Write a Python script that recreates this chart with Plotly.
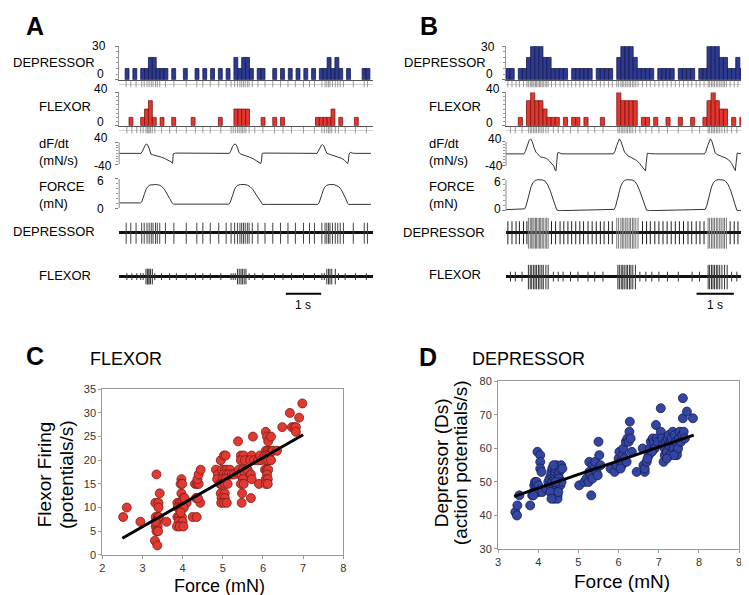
import plotly.graph_objects as go

W, H = 749, 595
FONT = "Liberation Sans, Arial, sans-serif"

# ---------------- data ----------------
BIN = 0.11            # histogram bin width (s)
A_T0, B_T0 = 0.17, 0.0
A_TRANGE = [0, 7.19]
B_TRANGE = [0, 6.65]

A_DEP_COUNTS = [10,0,10,0,10,10,20,20,10,10, 10,0,10,0,0,10,0,0,10,0,
                10,0,10,0,10,0,10,0,20,10, 20,20,10,0,10,10,0,0,10,0,
                10,0,10,0,10,0,10,0,10,0, 10,10,20,10,20,10,0,10,0,0, 0,10,10]
A_FLEX_COUNTS = [0,10,0,0,10,20,30,10,0,10, 0,0,10,0,0,0,0,10,0,0,
                 0,0,0,0,10,0,0,0,20,20, 20,20,0,0,0,10,0,0,10,0,
                 10,0,0,0,0,0,0,0,0,10, 10,10,10,20,0,10,0,0,0,10, 0,0,0]
B_DEP_COUNTS = [10,10,0,10,10,20,30,30,30,20, 20,10,10,10,10,0,10,10,10,10,
                10,0,10,10,10,10,0,20,30,30, 30,20,10,10,10,10,0,10,10,10,
                10,0,10,10,10,10,0,10,10,30, 30,30,20,20,10,10,20,10,0,10, 10]
B_FLEX_COUNTS = [0,0,0,10,0,30,40,30,30,20, 10,10,10,0,10,0,10,10,0,10,
                 0,0,0,10,0,0,0,40,30,30, 30,30,0,10,10,0,10,0,0,10,
                 0,0,10,0,0,10,0,0,10,30, 40,30,20,20,0,10,0,10,0,10, 0]

HIST_DEP_TICKS = [0, 30]
HIST_FLEX_TICKS = [0, 40]
DFDT_TICKS = [-40, 40]
FORCE_TICKS = [0, 6]

A_FORCE_T = [0.00,0.60,0.64,0.68,0.72,0.76,0.81,0.87,0.95,1.05,1.13,1.20,1.28,1.36,1.43,1.50,1.54,1.70,
             3.10,3.14,3.18,3.22,3.26,3.30,3.36,3.44,3.56,3.64,3.71,3.79,3.87,3.95,4.02,4.06,4.20,
             5.62,5.66,5.70,5.74,5.78,5.82,5.88,5.96,6.08,6.15,6.22,6.29,6.36,6.42,6.47,6.50,7.13]
A_FORCE = [1.10,1.10,1.30,2.00,3.00,3.80,4.40,4.75,4.85,4.85,4.75,4.50,3.90,3.00,2.00,1.10,0.85,0.85,
           0.85,1.10,1.80,2.80,3.70,4.30,4.70,4.85,4.85,4.70,4.40,3.80,2.90,1.90,1.00,0.80,0.80,
           0.80,1.10,1.80,2.80,3.70,4.30,4.70,4.85,4.85,4.70,4.40,3.80,2.90,1.90,1.00,0.80,0.80]
A_DFDT_T = [0.00,0.62,0.66,0.71,0.75,0.78,0.81,0.85,0.90,0.95,1.05,1.20,1.30,1.40,1.47,1.51,1.52,1.53,1.60,
            3.12,3.16,3.21,3.25,3.29,3.32,3.36,3.40,3.45,3.55,3.68,3.80,3.90,3.98,4.01,4.03,4.05,4.10,
            5.60,5.64,5.69,5.73,5.76,5.80,5.84,5.88,5.95,6.05,6.21,6.30,6.38,6.44,6.47,6.49,6.51,6.55,6.60,6.70,7.13]
A_DFDT = [0,0,8,22,32,34,30,18,-3,-5,-8,-14,-19,-25,-31,-36,-28,-2,1,
          0,8,24,32,34,30,16,2,-3,-7,-13,-20,-27,-33,-37,-28,0,1,
          0,8,22,30,31,26,12,1,-3,-7,-12,-18,-25,-32,-37,-28,-3,4,1,0,0]

B_FORCE_T = [0.00,0.45,0.50,0.54,0.58,0.62,0.67,0.72,0.78,0.85,0.98,1.05,1.12,1.19,1.26,1.32,1.36,1.42,2.00,2.85,
             2.90,2.94,2.98,3.02,3.07,3.12,3.18,3.25,3.38,3.45,3.52,3.59,3.66,3.72,3.77,3.85,4.50,5.30,
             5.34,5.38,5.42,5.46,5.51,5.56,5.62,5.69,5.82,5.89,5.96,6.03,6.09,6.15,6.19,6.26,6.65]
B_FORCE = [0.25,0.30,0.40,1.00,2.20,3.50,4.60,5.40,5.85,6.00,5.95,5.70,5.00,3.80,2.30,0.90,0.20,0.05,0.10,0.25,
           0.30,0.90,2.10,3.40,4.60,5.40,5.85,6.00,5.95,5.70,5.00,3.80,2.30,0.90,0.15,0.05,0.15,0.25,
           0.30,0.90,2.10,3.40,4.60,5.40,5.85,6.00,5.95,5.70,5.00,3.80,2.30,0.90,0.15,0.05,0.10]
B_DFDT_T = [0.00,0.48,0.52,0.57,0.62,0.66,0.70,0.75,0.80,0.84,0.88,0.92,1.00,1.08,1.15,1.22,1.28,1.32,1.34,1.36,1.38,1.42,1.50,
            2.88,2.92,2.97,3.01,3.04,3.08,3.13,3.18,3.22,3.27,3.33,3.42,3.50,3.57,3.64,3.70,3.74,3.76,3.79,3.85,4.00,
            5.32,5.36,5.41,5.45,5.48,5.52,5.57,5.61,5.66,5.72,5.79,5.88,5.97,6.05,6.10,6.15,6.17,6.20,6.25,6.65]
B_DFDT = [0,0,8,28,45,50,42,22,6,1,-5,-10,-12,-15,-22,-30,-40,-55,-57,-30,3,4,0,
          0,8,28,45,50,42,22,5,1,-7,-10,-15,-22,-30,-40,-50,-57,-30,2,1,0,
          0,8,28,45,50,42,20,3,-2,-6,-9,-13,-20,-32,-45,-56,-30,3,1,0]

A_DEP_SPIKES = [0.20,0.33,0.48,0.64,0.71,0.79,0.85,0.91,0.96,1.03,1.08,1.15,1.31,1.55,1.90,2.20,2.37,2.58,
                2.82,3.03,3.17,3.27,3.35,3.42,3.47,3.52,3.57,3.63,3.68,3.77,3.93,4.13,4.35,4.57,4.78,4.99,
                5.22,5.39,5.53,5.74,5.83,5.88,5.93,5.97,6.04,6.12,6.19,6.26,6.35,6.63,6.94,7.03]
A_FLEX_BURST = [0.76,0.80,0.82,0.85,0.89,0.94,3.35,3.40,3.45,3.49,3.54,3.59,5.88,5.93,5.97,6.02,6.12]
A_FLEX_SMALL = [0.22,0.36,0.50,0.61,0.68,1.01,1.20,1.43,1.62,1.90,2.16,2.37,2.58,2.88,3.17,3.23,3.29,
                3.68,3.84,4.07,4.40,4.64,4.88,5.22,5.53,5.74,5.81,6.21,6.40,6.69,7.00]
B_DEP_TONIC = [0.05,0.16,0.27,0.36,0.47,0.56,1.22,1.33,1.45,1.55,1.66,1.76,1.87,1.98,2.08,2.20,2.31,2.42,
               2.53,2.63,2.75,2.85,3.66,3.77,3.87,3.99,4.10,4.21,4.32,4.43,4.54,4.65,4.76,4.88,4.98,5.10,
               5.20,5.31,6.01,6.12,6.22,6.33,6.44,6.54,6.65]
B_DEP_BURST = [0.60,0.65,0.68,0.72,0.75,0.79,0.82,0.86,0.90,0.93,0.97,1.00,1.05,1.09,1.13,
               2.97,3.02,3.08,3.12,3.16,3.21,3.25,3.30,3.34,3.39,3.43,3.48,3.54,
               5.42,5.46,5.51,5.55,5.59,5.64,5.68,5.73,5.77,5.82,5.86,5.91]
B_FLEX_BURST = [0.60,0.65,0.69,0.74,0.78,0.82,0.87,0.91,0.96,1.00,1.07,1.13,
                3.00,3.04,3.09,3.13,3.17,3.22,3.26,3.31,3.35,3.40,3.47,
                5.42,5.46,5.51,5.55,5.59,5.64,5.68,5.73,5.79,5.86,5.93]
B_FLEX_TONIC = [0.12,0.25,0.43,1.27,1.40,1.53,1.73,1.93,2.20,2.38,2.60,3.59,3.75,3.91,4.10,4.33,4.62,
                4.99,5.19,6.05,6.19,6.32,6.50]
SCALE_BAR_S = 1.0
A_BAR_START, B_BAR_START = 4.72, 5.11

FLEX_FORCE = [2.52,2.61,2.95,
              3.35,3.32,3.40,3.43,3.40,3.33,3.38,3.36,3.33,3.38,3.35,3.39,3.31,3.37,3.41,3.33,
              3.60,
              3.97,3.95,3.99,3.97,4.02,3.87,3.93,3.98,4.05,4.10,3.88,3.95,4.03,3.87,3.92,3.98,3.90,4.00,3.86,3.93,4.02,4.05,3.95,
              4.25,4.35,4.33,
              4.31,4.36,4.40,4.37,4.40,4.45,4.44,4.38,
              4.83,4.88,4.86,4.93,4.95,5.03,5.07,4.98,5.05,5.10,5.18,5.02,5.10,5.15,5.22,5.00,5.07,4.97,5.05,5.12,4.95,5.05,4.97,5.05,4.96,5.03,5.10,5.28,
              5.38,5.45,5.52,5.45,5.55,5.40,5.50,5.58,5.42,5.47,5.55,5.50,5.45,5.52,5.48,5.47,5.62,
              5.75,5.72,5.68,5.78,5.70,5.72,5.70,5.88,5.93,5.95,5.90,
              6.07,6.10,6.13,6.20,6.07,6.12,6.17,6.22,6.05,6.10,6.15,6.07,6.13,6.20,6.05,6.10,6.13,6.10,6.07,6.12,6.07,6.12,6.25,6.35,
              6.48,6.67,6.72,6.78,6.82,6.82,6.90,6.98]
FLEX_RATE = [8,10,7,
             17,11,11,13,10,8,8,7,6,6,5,5,3,2,8,7,
             7,
             16,15,15,13,12,11,11,11,11,11,10,10,10,8,8,8,7,7,6,6,6,12,9,
             8,8,12,
             15,15,15,16,17,18,11,12,
             18,17,16,15,20,21,21,18,18,18,18,17,17,17,17,16,16,15,15,15,13,13,12,12,11,11,11,17,
             24,21,21,20,20,18,18,18,17,17,17,16,15,15,13,11,18,
             25,21,20,20,17,16,12,20,21,20,15,
             26,25,24,25,22,22,22,22,21,21,21,20,20,20,18,18,18,17,16,16,15,15,22,22,
             27,30,27,27,27,26,29,32]
FLEX_FIT_X = [2.50, 7.00]
FLEX_FIT_Y = [3.5, 25.4]

DEP_FORCE = [3.43,3.47,3.48,3.53,3.80,
             3.85,3.88,3.90,3.92,3.96,3.95,4.00,4.02,3.98,4.05,4.05,4.05,4.08,4.10,3.88,
             4.20,4.25,4.28,4.30,4.32,4.33,4.35,4.35,4.37,4.37,4.38,4.40,4.40,4.42,4.42,4.43,4.45,4.45,4.45,
             4.47,4.47,4.48,4.48,4.50,4.50,4.52,4.52,4.55,4.55,4.57,4.58,4.60,4.30,4.38,4.43,4.50,4.33,
             5.02,5.15,5.20,5.25,5.27,5.27,5.32,5.30,5.35,5.35,5.40,5.42,5.45,5.48,5.50,5.52,5.55,
             5.80,5.90,5.95,6.00,6.02,6.05,6.08,6.10,6.12,6.15,6.18,6.22,6.25,6.27,6.28,6.30,6.33,6.45,6.20,6.05,
             6.60,6.62,6.65,6.65,6.70,6.75,6.78,6.80,6.85,6.88,6.90,6.93,6.95,6.98,6.83,6.72,
             7.05,7.05,7.08,7.10,7.12,7.15,7.15,7.18,7.20,7.22,7.25,7.25,7.28,7.30,7.32,7.35,7.37,7.40,
             7.42,7.45,7.45,7.48,7.50,7.52,7.55,7.58,7.60,7.60,7.62,7.65,7.70,7.85,7.38,7.20]
DEP_RATE = [41,40,43,46,43,
            46,47,49,50,50,48,49,47,59,58,56,54,53,47,46,
            48,50,51,49,52,53,54,50,48,47,46,45,51,52,53,54,55,50,49,
            48,47,46,45,50,52,53,51,54,49,55,50,54,47,55,50,47,45,
            49,50,51,50,53,56,46,52,55,51,54,56,53,52,62,58,55,
            54,53,55,57,59,56,55,58,60,57,62,63,62,65,68,63,59,53,56,54,
            60,55,53,54,56,58,60,62,63,62,60,67,63,62,59,57,
            72,65,63,61,56,58,60,62,59,63,61,64,58,62,63,65,60,64,
            62,59,58,60,63,65,62,64,75,69,65,63,71,69,58,57]
DEP_FIT_X = [3.40, 7.87]
DEP_FIT_Y = [45.7, 64.0]

# ---------------- colours / styles ----------------
DEP_FILL, DEP_EDGE = "#2E3A8E", "#151B4F"
FLEX_FILL, FLEX_EDGE = "#E2362F", "#7A1512"
SC_RED, SC_RED_EDGE = "#E23A33", "#7A1A16"
SC_BLUE, SC_BLUE_EDGE = "#3446A2", "#141C55"

fig = go.Figure()
axes_layout = {}
shapes = []
annotations = []
counter = [0]


def new_axes(xd, yd, xr, yr, xopts=None, yopts=None):
    counter[0] += 1
    n = counter[0]
    s = "" if n == 1 else str(n)
    xa = dict(domain=[xd[0] / W, xd[1] / W], range=xr, anchor="y" + s, showgrid=False,
              zeroline=False, showline=False, showticklabels=False, ticks="", fixedrange=True)
    ya = dict(domain=[1 - yd[0] / H, 1 - yd[1] / H], range=yr, anchor="x" + s, showgrid=False,
              zeroline=False, showline=False, showticklabels=False, ticks="", fixedrange=True)
    if xopts:
        xa.update(xopts)
    if yopts:
        ya.update(yopts)
    axes_layout["xaxis" + s] = xa
    axes_layout["yaxis" + s] = ya
    return "x" + s, "y" + s


def ann(text, x, y, size, anchor="left", bold=False, angle=0, color="black"):
    annotations.append(dict(text=f"<b>{text}</b>" if bold else text, x=x / W, y=1 - y / H,
                            xref="paper", yref="paper", xanchor=anchor, yanchor="middle",
                            showarrow=False, textangle=angle, align="left",
                            font=dict(size=size, color=color, family=FONT)))


def tick_y(vals, minor_vals):
    return dict(ticks="outside", ticklen=3, tickcolor="#777", tickwidth=1,
                tickmode="array", tickvals=vals, showticklabels=False,
                minor=dict(ticks="outside", ticklen=2, tickcolor="#999", tickmode="array",
                           tickvals=minor_vals))


def axis_line(xr, yr, y0, y1):
    shapes.append(dict(type="line", xref=xr + " domain", yref=yr, x0=0, x1=0, y0=y0, y1=y1,
                       line=dict(color="#888", width=1)))


def spikes(times, up, down):
    xs, ys = [], []
    for t in times:
        xs += [t, t, None]
        ys += [-down, up, None]
    return xs, ys


def panel(x0px, x1px, trange, t0, dep_counts, flex_counts, force_t, force, dfdt_t, dfdt,
          dfdt_px, dfdt_rng, force_px, force_rng, dep_raw, flex_raw, raster_dep, raster_flex,
          bar_start):
    xd = (x0px, x1px)
    # depressor histogram
    xr, yr = new_axes(xd, (67, 33), trange, [0, 30],
                      xopts=dict(showline=True, linecolor="#555", linewidth=1),
                      yopts=dict(showline=True, linecolor="#999", **tick_y(HIST_DEP_TICKS, list(range(0, 31, 5)))))
    cx = [t0 + (k + 0.5) * BIN for k, c in enumerate(dep_counts) if c > 0]
    cy = [c for c in dep_counts if c > 0]
    fig.add_trace(go.Bar(x=cx, y=cy, width=BIN, marker=dict(color=DEP_FILL, line=dict(color=DEP_EDGE, width=0.8)),
                         xaxis=xr, yaxis=yr))
    # depressor raster
    xr, yr = new_axes(xd, (75, 68), trange, [-1, 1],
                      yopts=dict(zeroline=True, zerolinecolor="#d0d0d0", zerolinewidth=1))
    fig.add_trace(go.Scatter(x=raster_dep, y=[0] * len(raster_dep), mode="markers",
                             marker=dict(symbol="line-ns", size=5, line=dict(color="#999", width=1)),
                             xaxis=xr, yaxis=yr))
    # flexor histogram
    xr, yr = new_axes(xd, (114, 80), trange, [0, 40],
                      xopts=dict(showline=True, linecolor="#555", linewidth=1),
                      yopts=dict(showline=True, linecolor="#999", **tick_y(HIST_FLEX_TICKS, list(range(0, 41, 5)))))
    cx = [t0 + (k + 0.5) * BIN for k, c in enumerate(flex_counts) if c > 0]
    cy = [c for c in flex_counts if c > 0]
    fig.add_trace(go.Bar(x=cx, y=cy, width=BIN, marker=dict(color=FLEX_FILL, line=dict(color=FLEX_EDGE, width=0.8)),
                         xaxis=xr, yaxis=yr))
    # flexor raster
    xr, yr = new_axes(xd, (122, 115), trange, [-1, 1],
                      yopts=dict(zeroline=True, zerolinecolor="#d0d0d0", zerolinewidth=1))
    fig.add_trace(go.Scatter(x=raster_flex, y=[0] * len(raster_flex), mode="markers",
                             marker=dict(symbol="line-ns", size=5, line=dict(color="#999", width=1)),
                             xaxis=xr, yaxis=yr))
    # dF/dt
    xr, yr = new_axes(xd, dfdt_px, trange, dfdt_rng,
                      yopts=tick_y(DFDT_TICKS, list(range(-40, 41, 10))))
    axis_line(xr, yr, DFDT_TICKS[0], DFDT_TICKS[1])
    fig.add_trace(go.Scatter(x=dfdt_t, y=dfdt, mode="lines", line=dict(color="#333", width=1),
                             xaxis=xr, yaxis=yr))
    # force
    xr, yr = new_axes(xd, force_px, trange, force_rng,
                      yopts=tick_y(FORCE_TICKS, [0, 1, 2, 3, 4, 5, 6]))
    axis_line(xr, yr, FORCE_TICKS[0], FORCE_TICKS[1])
    fig.add_trace(go.Scatter(x=force_t, y=force, mode="lines", line=dict(color="#333", width=1),
                             xaxis=xr, yaxis=yr))
    # raw depressor
    (dep_groups, dep_px, dep_rng) = dep_raw
    xr, yr = new_axes(xd, dep_px, trange, dep_rng,
                      yopts=dict(zeroline=True, zerolinecolor="#111", zerolinewidth=3))
    for times, up, down, col in dep_groups:
        sx, sy = spikes(times, up, down)
        fig.add_trace(go.Scatter(x=sx, y=sy, mode="lines", line=dict(color=col, width=1),
                                 xaxis=xr, yaxis=yr))
    # raw flexor
    (flex_groups, flex_px, flex_rng) = flex_raw
    xr, yr = new_axes(xd, flex_px, trange, flex_rng,
                      yopts=dict(zeroline=True, zerolinecolor="#111", zerolinewidth=3))
    for times, up, down, col in flex_groups:
        sx, sy = spikes(times, up, down)
        fig.add_trace(go.Scatter(x=sx, y=sy, mode="lines", line=dict(color=col, width=1),
                                 xaxis=xr, yaxis=yr))
    # scale bar
    shapes.append(dict(type="line", xref=xr, yref="paper", x0=bar_start, x1=bar_start + SCALE_BAR_S,
                       y0=1 - 285.5 / H, y1=1 - 285.5 / H, line=dict(color="black", width=2)))
    annotations.append(dict(text="1 s", x=bar_start + SCALE_BAR_S / 2, y=1 - 297 / H, xref=xr, yref="paper",
                            xanchor="center", yanchor="middle", showarrow=False,
                            font=dict(size=12, color="black", family=FONT)))


# Panel A
panel(109, 365, A_TRANGE, A_T0, A_DEP_COUNTS, A_FLEX_COUNTS, A_FORCE_T, A_FORCE, A_DFDT_T, A_DFDT,
      (154.9, 130.4), [-45, 42], (198.3, 168.3), [0, 6],
      ([(A_DEP_SPIKES, 1.0, 1.15, "#444")], (238, 208), [-1.5, 1.5]),
      ([(A_FLEX_BURST, 0.8, 0.8, "#333"), (A_FLEX_SMALL, 0.35, 0.35, "#333")], (283, 253), [-1.5, 1.5]),
      A_DEP_SPIKES, A_FLEX_BURST + A_FLEX_SMALL, A_BAR_START)
# Panel B
panel(499, 749, B_TRANGE, B_T0, B_DEP_COUNTS, B_FLEX_COUNTS, B_FORCE_T, B_FORCE, B_DFDT_T, B_DFDT,
      (161.1, 125.9), [-60, 55], (201, 168.3), [0, 6.15],
      ([(B_DEP_TONIC, 1.15, 1.2, "#222"), (B_DEP_BURST, 1.5, 1.65, "#777")], (241, 205), [-1.8, 1.8]),
      ([(B_FLEX_TONIC, 0.5, 0.5, "#333"), (B_FLEX_BURST, 1.2, 1.3, "#333")], (286, 250), [-1.8, 1.8]),
      B_DEP_TONIC + B_DEP_BURST, B_FLEX_TONIC + B_FLEX_BURST, B_BAR_START)

# tick labels of the trace axes (placed as in the original figure)
TICK_LABELS = [HIST_DEP_TICKS[1], HIST_DEP_TICKS[0], HIST_FLEX_TICKS[1], HIST_FLEX_TICKS[0],
               DFDT_TICKS[1], DFDT_TICKS[0], FORCE_TICKS[1], FORCE_TICKS[0]]
A_TICK_POS = [(98, 33), (96, 61), (100, 77), (96, 110), (100, 127), (104, 155), (96, 170.5), (96, 199)]
B_TICK_POS = [(490, 33.5), (488, 61), (495, 77), (488, 111), (497, 127.5), (498, 155), (496, 171), (496, 199.5)]
for v, (x, y) in zip(TICK_LABELS, A_TICK_POS):
    ann(str(v), x, y, 12, "right")
for v, (x, y) in zip(TICK_LABELS, B_TICK_POS):
    ann(str(v), x, y, 12, "right")


def sc_axis(rng, dtick):
    return dict(range=rng, dtick=dtick, tick0=rng[0], showline=True, linecolor="#999", linewidth=1,
                mirror=True, ticks="outside", ticklen=3, tickcolor="#999", showticklabels=True,
                tickfont=dict(size=11, color="#333", family=FONT))


# Panel C
xr, yr = new_axes((92, 335), (552, 383), [2, 8], [0, 35],
                  xopts=sc_axis([2, 8], 1), yopts=sc_axis([0, 35], 5))
fig.add_trace(go.Scatter(x=FLEX_FORCE, y=FLEX_RATE, mode="markers",
                         marker=dict(size=9, color=SC_RED, line=dict(color=SC_RED_EDGE, width=0.8)),
                         xaxis=xr, yaxis=yr))
fig.add_trace(go.Scatter(x=FLEX_FIT_X, y=FLEX_FIT_Y, mode="lines", line=dict(color="black", width=3),
                         xaxis=xr, yaxis=yr))
# Panel D
xr, yr = new_axes((491, 734), (546, 375), [3, 9], [30, 80],
                  xopts=sc_axis([3, 9], 1), yopts=sc_axis([30, 80], 10))
fig.add_trace(go.Scatter(x=DEP_FORCE, y=DEP_RATE, mode="markers",
                         marker=dict(size=9, color=SC_BLUE, line=dict(color=SC_BLUE_EDGE, width=0.8)),
                         xaxis=xr, yaxis=yr))
fig.add_trace(go.Scatter(x=DEP_FIT_X, y=DEP_FIT_Y, mode="lines", line=dict(color="black", width=3),
                         xaxis=xr, yaxis=yr))

# ---------------- text ----------------
ann("A", 24, 12, 25, "center", bold=True)
ann("B", 421, 12, 25, "center", bold=True)
ann("C", 24, 349, 25, "center", bold=True)
ann("D", 420, 350, 25, "center", bold=True)
ann("DEPRESSOR", 0, 49, 13)
ann("FLEXOR", 26, 94, 13)
ann("dF/dt<br>(mN/s)", 26, 141, 13)
ann("FORCE<br>(mN)", 26, 184.5, 13)
ann("DEPRESSOR", 0, 222, 13)
ann("FLEXOR", 26, 267, 13)
ann("DEPRESSOR", 394, 49, 13)
ann("FLEXOR", 419, 94, 13)
ann("dF/dt<br>(mN/s)", 419, 141, 13)
ann("FORCE<br>(mN)", 419, 184.5, 13)
ann("DEPRESSOR", 393, 223, 13)
ann("FLEXOR", 419, 266, 13)
ann("FLEXOR", 78, 352, 18)
ann("DEPRESSOR", 463, 352, 18)
ann("Flexor Firing", 34, 470, 19, "center", angle=-90)
ann("(potentials/s)", 56, 470, 19, "center", angle=-90)
ann("Force (mN)", 210, 584, 18, "center")
ann("Depressor (Ds)", 434, 458, 19, "center", angle=-90)
ann("(action potentials/s)", 453, 458, 19, "center", angle=-90)
ann("Force (mN)", 616, 579, 19, "center")

fig.update_layout(width=W, height=H, margin=dict(l=0, r=0, t=0, b=0), paper_bgcolor="white",
                  plot_bgcolor="white", showlegend=False, barmode="overlay",
                  shapes=shapes, annotations=annotations, font=dict(family=FONT), **axes_layout)
fig.write_html("out.html")
